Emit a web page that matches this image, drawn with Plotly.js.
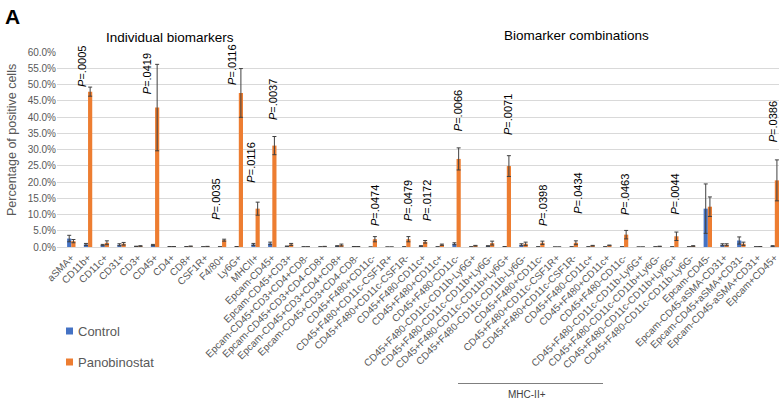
<!DOCTYPE html>
<html><head><meta charset="utf-8">
<script src="https://cdn.plot.ly/plotly-3.0.1.min.js"></script>
<style>html,body{margin:0;padding:0;background:#fff}</style>
</head><body><div id="chart" style="width:779px;height:402px"></div>
<script>
const categories = [
  "aSMA+","CD11b+","CD11c+","CD31+","CD3+","CD45+","CD4+","CD8+","CSF1R+","F4/80+","Ly6G+","MHCII+",
  "Epcam-CD45+","Epcam-CD45+CD3+","Epcam-CD45+CD3+CD4+CD8-","Epcam-CD45+CD3+CD4-CD8+","Epcam-CD45+CD3+CD4+CD8+","Epcam-CD45+CD3+CD4-CD8-",
  "CD45+F480+CD11c-","CD45+F480+CD11c-CSF1R+","CD45+F480+CD11c-CSF1R-","CD45+F480-CD11c+","CD45+F480+CD11c+","CD45+F480-CD11c-",
  "CD45+F480-CD11c-CD11b-Ly6G+","CD45+F480-CD11c-CD11b+Ly6G-","CD45+F480-CD11c-CD11b+Ly6G+","CD45+F480-CD11c-CD11b-Ly6G-",
  "CD45+F480+CD11c-","CD45+F480+CD11c-CSF1R+","CD45+F480+CD11c-CSF1R-","CD45+F480-CD11c+","CD45+F480+CD11c+","CD45+F480-CD11c-",
  "CD45+F480-CD11c-CD11b-Ly6G+","CD45+F480-CD11c-CD11b+Ly6G-","CD45+F480-CD11c-CD11b+Ly6G+","CD45+F480-CD11c-CD11b-Ly6G-",
  "Epcam-CD45-","Epcam-CD45-aSMA-CD31+","Epcam-CD45+aSMA+CD31-","Epcam-CD45-aSMA+CD31+","Epcam+CD45+"
];
const controlValues = [2.6,0.8,0.6,0.7,0.2,0.6,0.1,0.1,0.05,0.05,0.1,0.8,
  1.1,0.2,0.05,0.05,0.3,0.1,
  0,0,0.05,0.3,0.05,1.0,0.05,0.3,0.1,0.7,
  0.05,0,0.05,0.05,0.05,0.05,0,0.05,0.05,0.05,
  11.8,0.7,2.0,0.05,0.3];
const controlErrors = [1.0,0.3,0.2,0.3,0.05,0.2,0.05,0.05,0.02,0.02,0.05,0.3,
  0.4,0.1,0.02,0.02,0.1,0.05,
  0,0,0.02,0.1,0.02,0.3,0.02,0.1,0.05,0.3,
  0.02,0,0.02,0.02,0.02,0.02,0,0.02,0.02,0.02,
  7.6,0.3,1.1,0.02,0.1];
const panobinostatValues = [1.8,47.8,1.3,1.0,0.3,42.9,0.1,0.2,0.15,2.1,47.4,11.8,
  31.2,0.8,0.05,0.15,0.6,0.1,
  2.4,0,2.4,1.6,0.7,27.1,0.4,1.2,24.9,1.0,
  1.3,0,1.3,0.4,0.5,3.8,0,0.2,3.3,0.3,
  12.4,0.7,1.0,0.1,20.5];
const panobinostatErrors = [0.5,1.4,0.6,0.4,0.1,13.3,0.05,0.1,0.05,0.3,7.5,2.0,
  2.8,0.3,0.02,0.05,0.3,0.05,
  0.8,0,0.8,0.4,0.2,3.4,0.1,0.6,3.2,0.5,
  0.5,0,0.6,0.1,0.1,1.3,0,0.05,1.3,0.1,
  3.0,0.3,0.5,0.05,6.3];
const pValueTexts = [".0005",".0419",".0035",".0116",".0116",".0037",".0474",".0479",".0172",".0066",".0071",".0398",".0434",".0463",".0044",".0386"];
const pValueCategory = [1,5,9,10,11,12,18,20,21,23,26,28,30,33,36,42];

// label placement (layout only): horizontal nudge in category units, baseline in axis units
const pLabelNudge = [-0.36,-0.47,-0.33,-0.38,-0.27,0.04,0.13,0.1,0.23,0.09,0.07,0.16,0.25,0.06,0.04,-0.1];
const pLabelBase  = [48.5,46.3,7.8,49.4,19.2,38.6,6.0,7.5,7.5,34.9,34.0,6.0,9.5,9.1,9.5,31.5];

const xIdx = categories.map((_, i) => i);
const BLUE = '#4472C4', ORANGE = '#ED7D31';
const errStyle = {type:'data', color:'#404040', thickness:1, width:2};

const traces = [
  {type:'bar', name:'Control', x:xIdx, y:controlValues, marker:{color:BLUE},
   error_y:Object.assign({array:controlErrors}, errStyle), hoverinfo:'skip'},
  {type:'bar', name:'Panobinostat', x:xIdx, y:panobinostatValues, marker:{color:ORANGE},
   error_y:Object.assign({array:panobinostatErrors}, errStyle), hoverinfo:'skip'}
];

const ML = 57, MT = 52, MB = 155, W = 779, H = 402;
const plotW = W - ML, plotH = H - MT - MB, plotBottom = H - MB;
const px = v => (v - ML) / plotW;
const py = v => (plotBottom - v) / plotH;
const FONT = 'Liberation Sans, Arial, sans-serif';

const annotations = [];
pValueTexts.forEach((t, k) => {
  annotations.push({xref:'x', yref:'y', x:pValueCategory[k] + pLabelNudge[k], y:pLabelBase[k],
    text:'<i>P</i>=' + t, textangle:-90, showarrow:false, xanchor:'center', yanchor:'bottom',
    font:{family:FONT, size:11, color:'#000'}});
});
const txt = (x, y, text, font, opts) => Object.assign({xref:'paper', yref:'paper', x:px(x), y:py(y), text,
  showarrow:false, font}, opts || {});
annotations.push(txt(3, 17, '<b>A</b>', {family:FONT, size:21, color:'#000'}, {xanchor:'left', yanchor:'middle'}));
annotations.push(txt(170, 37, 'Individual biomarkers', {family:FONT, size:13.5, color:'#000'}, {xanchor:'center', yanchor:'middle'}));
annotations.push(txt(576, 35, 'Biomarker combinations', {family:FONT, size:13.5, color:'#000'}, {xanchor:'center', yanchor:'middle'}));
annotations.push(txt(12, 140, 'Percentage of positive cells', {family:FONT, size:12.5, color:'#595959'}, {xanchor:'center', yanchor:'middle', textangle:-90}));
annotations.push(txt(76, 331, 'Control', {family:FONT, size:13, color:'#595959'}, {xanchor:'left', yanchor:'middle'}));
annotations.push(txt(76, 362, 'Panobinostat', {family:FONT, size:13, color:'#595959'}, {xanchor:'left', yanchor:'middle'}));
annotations.push(txt(527, 394, 'MHC-II+', {family:FONT, size:10, color:'#404040'}, {xanchor:'center', yanchor:'middle'}));

const shapes = [
  {type:'rect', xref:'paper', yref:'paper', x0:px(66), x1:px(73), y0:py(334.5), y1:py(327.5), fillcolor:BLUE, line:{width:0}},
  {type:'rect', xref:'paper', yref:'paper', x0:px(66), x1:px(73), y0:py(365.5), y1:py(358.5), fillcolor:ORANGE, line:{width:0}},
  {type:'line', xref:'paper', yref:'paper', x0:px(458), x1:px(603), y0:py(383.5), y1:py(383.5), line:{color:'#7f7f7f', width:1}}
];

const layout = {
  width:W, height:H, margin:{l:ML, r:0, t:MT, b:MB, pad:0},
  paper_bgcolor:'#fff', plot_bgcolor:'#fff', showlegend:false,
  barmode:'group', bargap:0.5, bargroupgap:0,
  font:{family:FONT, color:'#595959'},
  xaxis:{range:[-0.854, 42.25], tickmode:'array', tickvals:xIdx, ticktext:categories, tickangle:-45,
    tickfont:{size:10, color:'#595959'}, ticks:'', showgrid:false, showline:true, linecolor:'#d9d9d9', linewidth:1,
    zeroline:false, automargin:false, fixedrange:true, ticklabeloverflow:'allow'},
  yaxis:{range:[0,60], dtick:5, tickformat:'.1f', ticksuffix:'%', tickfont:{size:10, color:'#595959'},
    showgrid:true, gridcolor:'#d9d9d9', gridwidth:1, zeroline:false, showline:false, ticks:'', automargin:false, fixedrange:true},
  annotations, shapes
};
Plotly.newPlot('chart', traces, layout, {staticPlot:true, displayModeBar:false});
</script></body></html>
